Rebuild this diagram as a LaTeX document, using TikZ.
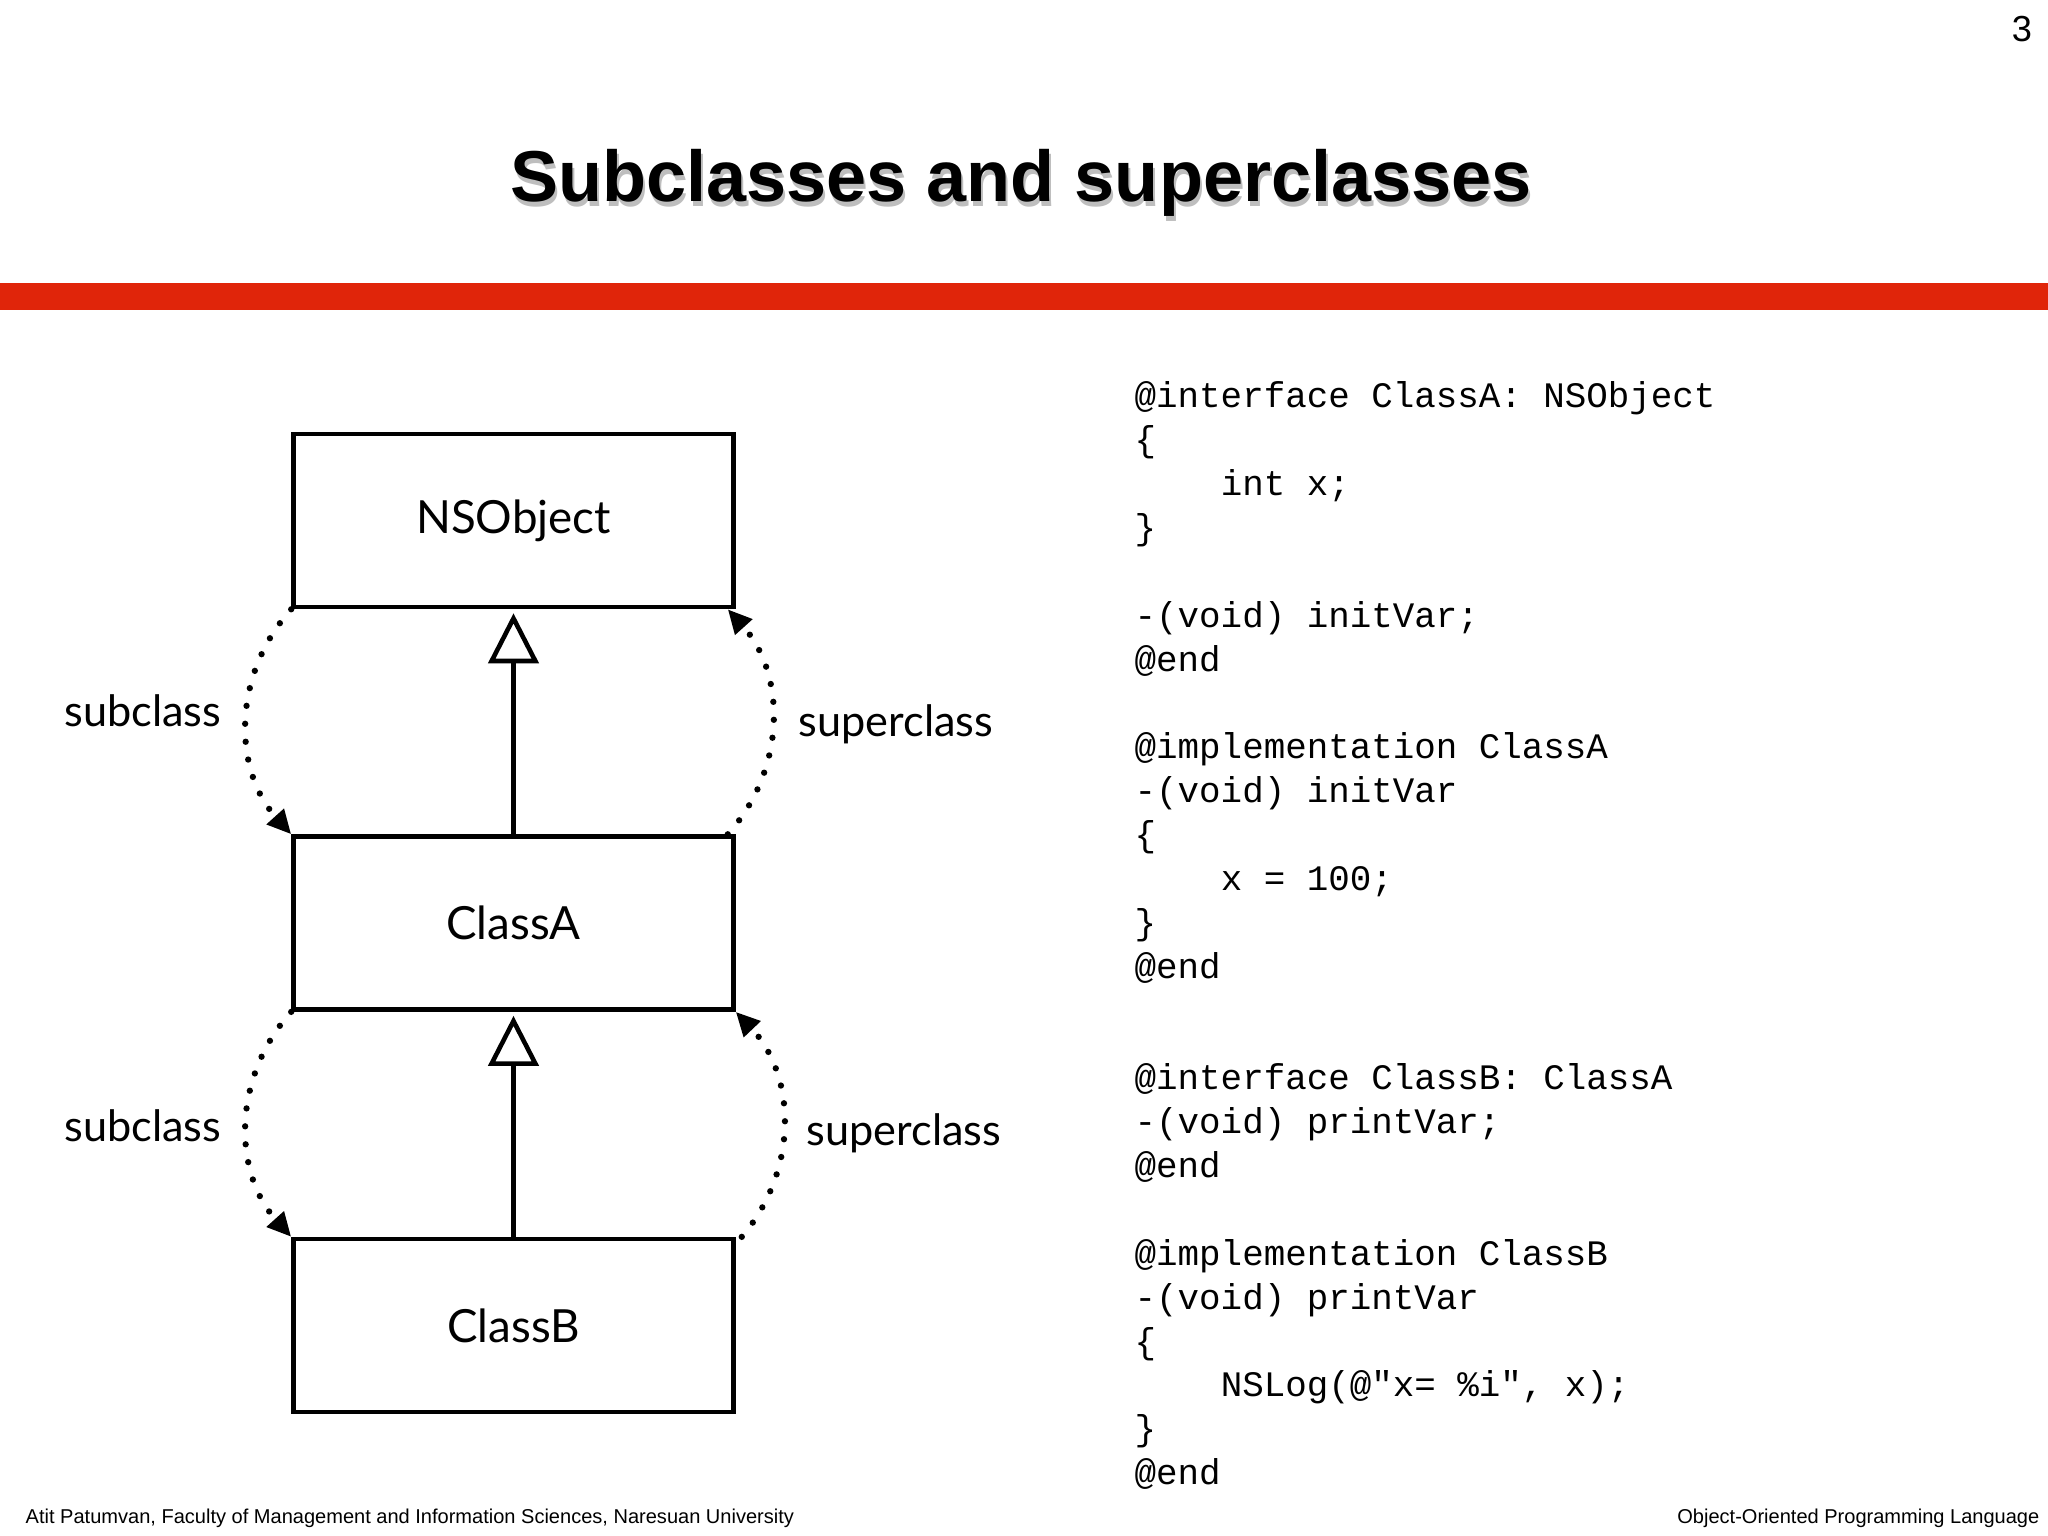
\documentclass[tikz,border=0pt]{standalone}
\usepackage{fontspec}
\setmainfont{Liberation Sans}
\newfontfamily\labelfont{Lato}
\newfontfamily\codefont{Liberation Mono}
\usepackage{tikz}
\usetikzlibrary{arrows.meta, positioning}
\definecolor{BarRed}{RGB}{224, 37, 10}
\definecolor{Shade}{RGB}{190, 190, 190}

\begin{document}
\begin{tikzpicture}[
        classbox/.style={
            rectangle,
            draw=black,
            line width=1.3pt,
            minimum width=4.4cm,
            minimum height=1.73cm,
            font=\labelfont\fontsize{13}{15}\selectfont
        },
        inherit/.style={
            -{Triangle[open, length=0.5cm, width=0.5cm]},
            line width=1.3pt,
            shorten >=0.04cm
        },
        relation/.style={
            -{Triangle[length=0.24cm, width=0.22cm]},
            line width=1.8pt,
            line cap=round,
            dash pattern=on 0pt off 0.18cm
        },
        lbl/.style={
            inner sep=0pt,
            font=\labelfont\fontsize{12.3}{15}\selectfont
        },
        code/.style={
            anchor=north west,
            inner sep=0pt,
            align=left,
            font=\codefont\fontsize{10.2}{12.5}\selectfont
        },
        foot/.style={
            inner sep=0pt,
            font=\fontsize{5.7}{7}\selectfont
        }
    ]
        \fill[white] (0,0) rectangle (20.48,-15.36);
        \useasboundingbox (0,0) rectangle (20.48,-15.36);

        % Header
        \node[font=\fontsize{10.3}{12}\selectfont] (pagenum) at (20.22,-0.29) {3};
        \node[anchor=base, text=Shade, font=\bfseries\fontsize{20.5}{24}\selectfont] (titleshade) at (10.23,-2.07) {Subclasses and superclasses};
        \node[anchor=base, font=\bfseries\fontsize{20.5}{24}\selectfont] (title) at (10.21,-2.02) {Subclasses and superclasses};
        \fill[BarRed] (0,-2.83) rectangle (20.48,-3.10);

        % Classes
        \node[classbox] (nso) at (5.135,-5.205) {NSObject};
        \node[classbox, below=2.25cm of nso] (ca) {ClassA};
        \node[classbox, below=2.25cm of ca] (cb) {ClassB};

        % Inheritance
        \draw[inherit] (ca.north) -- (nso.south);
        \draw[inherit] (cb.north) -- (ca.south);

        % Relations
        \draw[relation] (nso.south west) to[bend right=42] (ca.north west);
        \draw[relation] ([xshift=-0.08cm]ca.north east) to[bend right=42] ([xshift=-0.08cm]nso.south east);
        \draw[relation] (ca.south west) to[bend right=42] (cb.north west);
        \draw[relation] ([xshift=0.06cm]cb.north east) to[bend right=42] (ca.south east);

        \node[lbl, anchor=base east] (sub1) at (2.22,-7.27) {subclass};
        \node[lbl, anchor=base west] (super1) at (7.98,-7.36) {superclass};
        \node[lbl, anchor=base east] (sub2) at (2.22,-11.41) {subclass};
        \node[lbl, anchor=base west] (super2) at (8.06,-11.45) {superclass};

        % Code
        \node[code] (codeA) at (11.34,-3.76) {\strut@interface ClassA: NSObject\\
            \{\\
            \hphantom{0000}int x;\\
            \}\\
            \mbox{}\\
            -(void) initVar;\\
            @end\\
            \mbox{}\\
            @implementation ClassA\\
            -(void) initVar\\
            \{\\
            \hphantom{0000}x = 100;\\
            \}\\
            @end};
        \node[code] (codeB) at (11.34,-10.58) {\strut@interface ClassB: ClassA\\
            -(void) printVar;\\
            @end\\
            \mbox{}\\
            @implementation ClassB\\
            -(void) printVar\\
            \{\\
            \hphantom{0000}NSLog(@"x= \%i", x);\\
            \}\\
            @end};

        % Footer
        \node[foot, anchor=base west] (author) at (0.25,-15.23) {Atit Patumvan, Faculty of Management and Information Sciences, Naresuan University};
        \node[foot, anchor=base east] (course) at (20.40,-15.23) {Object-Oriented Programming Language};
    \end{tikzpicture}
\end{document}
